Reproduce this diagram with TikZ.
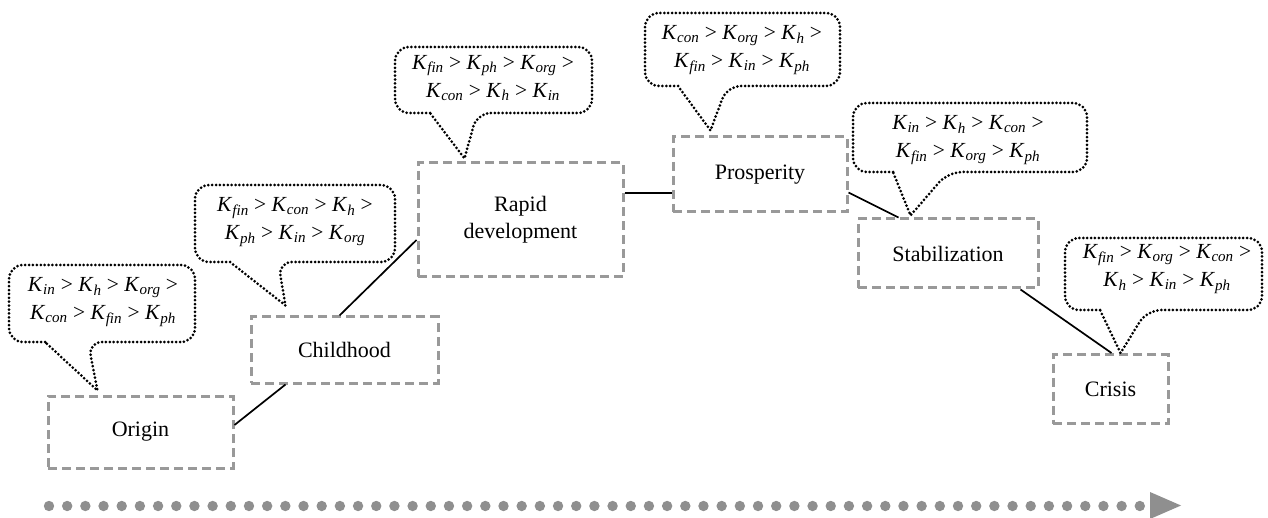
\documentclass[tikz,border=0pt]{standalone}
\usepackage{fontspec}
\setmainfont{Liberation Serif}
\usetikzlibrary{calc}
\definecolor{dashgray}{HTML}{999999}
\definecolor{dotgray}{HTML}{8F8F8F}
\newcommand\Kx[1]{\textit{K}\textsubscript{\textit{#1}}}
\newcommand\callout[7]{\draw[callline, rounded corners=14pt] (#5,#4) -- (#1,#4) -- (#1,#2) -- (#3,#2) -- (#3,#4) -- (#6,#4) [sharp corners] -- (#7) -- cycle;}
\begin{document}
\begin{tikzpicture}[x=1pt,y=-1pt,
 stagebox/.style={draw=dashgray, line width=3pt, dash pattern=on 9pt off 5pt, align=center, inner sep=0pt, font=\fontsize{22}{27}\selectfont},
 callline/.style={draw=black, line width=3pt, dash pattern=on 0pt off 3.9pt, line cap=round},
 calltext/.style={align=center, inner sep=0pt, font=\fontsize{21.5}{28}\selectfont},
 link/.style={draw=black, line width=1.7pt}]
\useasboundingbox (0,0) rectangle (1268,518);
% stage boxes
\node[stagebox, minimum width=185pt, minimum height=72pt] (origin) at (140.5,432) {Origin};
\node[stagebox, minimum width=187pt, minimum height=66pt] (child) at (344.5,350) {Childhood};
\node[stagebox, minimum width=205pt, minimum height=114pt] (rapid) at (520.5,220) {Rapid\\development};
\node[stagebox, minimum width=174pt, minimum height=75pt] (prosp) at (760,174.5) {Prosperity};
\node[stagebox, minimum width=180pt, minimum height=69pt] (stab) at (948,253.5) {Stabilization};
\node[stagebox, minimum width=115pt, minimum height=69pt] (crisis) at (1110.5,389) {Crisis};
% connectors
\draw[link] ($(origin.east)+(0,-7)$) -- ($(child.south west)+(36,0)$);
\draw[link] ($(child.north west)+(90,0)$) -- ($(rapid.west)+(0,20)$);
\draw[link] ($(rapid.east)+(0,-27)$) -- ($(prosp.west)+(0,18.5)$);
\draw[link] ($(prosp.east)+(0,18)$) -- ($(stab.north west)+(42,0)$);
\draw[link] ($(stab.south west)+(164,0)$) -- ($(crisis.north west)+(60,0)$);
% pointer tips
\coordinate (t1) at ($(origin.north west)+(51,-4)$);
\coordinate (t2) at ($(child.north west)+(36,-10)$);
\coordinate (t3) at ($(rapid.north west)+(48,-3)$);
\coordinate (t4) at ($(prosp.north west)+(39,-5)$);
\coordinate (t5) at ($(stab.north west)+(54,-2)$);
\coordinate (t6) at ($(crisis.north west)+(69,0)$);
% callouts
\callout{9}{265}{195}{342}{45}{88}{t1}
\node[calltext] (c1) at (103,302) {\Kx{in} > \Kx{h} > \Kx{org} >\\\Kx{con} > \Kx{fin} > \Kx{ph}};
\callout{195}{185}{395}{262}{230}{278}{t2}
\node[calltext] (c2) at (295,222) {\Kx{fin} > \Kx{con} > \Kx{h} >\\\Kx{ph} > \Kx{in} > \Kx{org}};
\callout{395}{47}{592}{113}{430}{477}{t3}
\node[calltext] (c3) at (493,78) {\Kx{fin} > \Kx{ph} > \Kx{org} >\\\Kx{con} > \Kx{h} > \Kx{in}};
\callout{645}{13}{840}{86}{678}{727}{t4}
\node[calltext] (c4) at (742,50) {\Kx{con} > \Kx{org} > \Kx{h} >\\\Kx{fin} > \Kx{in} > \Kx{ph}};
\callout{853}{103}{1087}{172}{893}{948}{t5}
\node[calltext] (c5) at (968,140) {\Kx{in} > \Kx{h} > \Kx{con} >\\\Kx{fin} > \Kx{org} > \Kx{ph}};
\callout{1065}{238}{1262}{310}{1100}{1147}{t6}
\node[calltext] (c6) at (1167,269) {\Kx{fin} > \Kx{org} > \Kx{con} >\\\Kx{h} > \Kx{in} > \Kx{ph}};
% time arrow
\foreach \i in {0,...,60} \fill[dotgray] (49+\i*18.18,506) circle (5.2);
\fill[dotgray] (1150,492) -- (1181,505.5) -- (1150,519) -- cycle;
\end{tikzpicture}
\end{document}
